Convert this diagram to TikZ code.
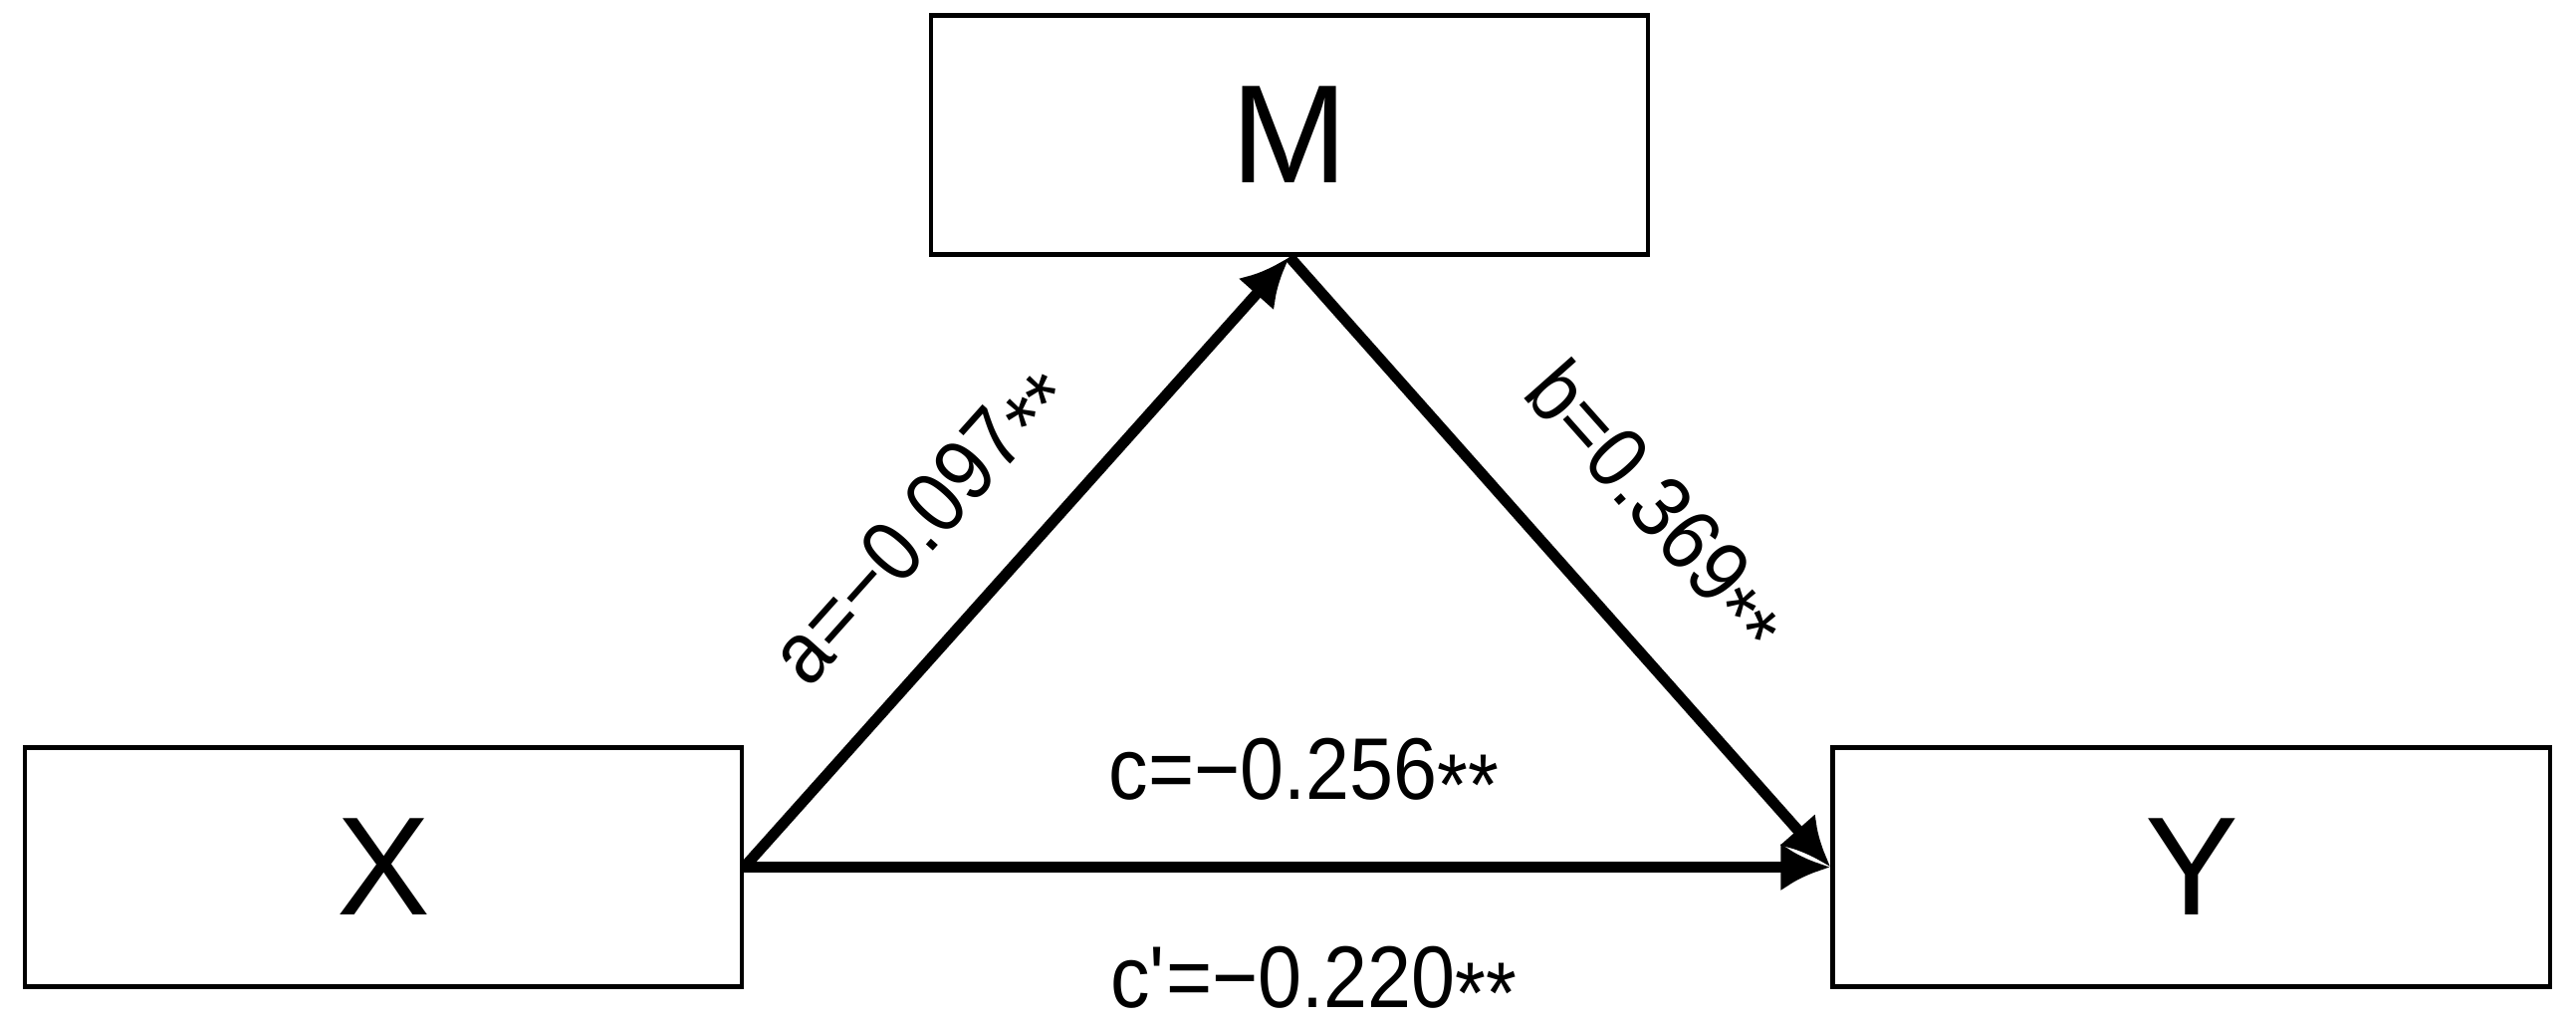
\documentclass[tikz,border=0pt]{standalone}
\usepackage{fontspec}
\setmainfont{Liberation Sans}
\newfontfamily\labelfont[FakeStretch=0.9]{Liberation Sans}
\usetikzlibrary{positioning, arrows.meta}
\newcommand{\twostar}{\smash{\raisebox{-0.19em}{**}}}

\begin{document}
\begin{tikzpicture}[
    node distance=10.91cm,
    box/.style={draw, rectangle, line width=1.4pt, minimum width=7.2cm, minimum height=2.4cm, text centered, font=\fontsize{40pt}{48pt}\selectfont},
    link/.style={-{Latex[length=0.5cm, width=0.48cm]}, line width=3.1pt},
    coef/.style={font=\labelfont\fontsize{25pt}{30pt}\selectfont, inner sep=0pt}
]
\useasboundingbox (0,0) rectangle (25.87,10.28);
\node[box] (m) at (12.95,8.925) {M};
\node[box] (x) at (3.85,1.575) {X};
\node[box, right=of x] (y) {Y};

\draw[link] (x.east) -- node[coef, sloped, pos=0.455, above=0.64cm] {a=−0.097\twostar} (m.south);
\draw[link] (m.south) -- node[coef, sloped, pos=0.528, above=0.76cm] {b=0.369\twostar} (y.west);
\draw[link] (x.east) -- node[coef, pos=0.515, above=0.62cm] {c=−0.256\twostar}
    node[coef, pos=0.524, below=0.74cm] {c\textquotesingle=−0.220\twostar} (y.west);
\end{tikzpicture}
\end{document}
